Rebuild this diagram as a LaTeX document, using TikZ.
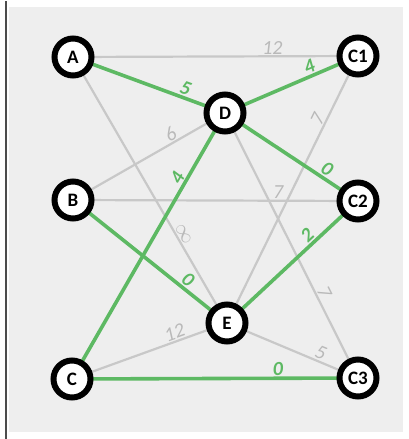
\documentclass[tikz,border=0pt]{standalone}
\usepackage{fontspec}
\setmainfont{Carlito}
\usetikzlibrary{calc}
\definecolor{grn}{RGB}{93,185,99}
\definecolor{gedge}{RGB}{200,200,200}
\definecolor{glab}{RGB}{185,185,185}
\definecolor{panel}{RGB}{238,238,238}
\pgfdeclarelayer{bglayer}
\pgfdeclarelayer{edgelayer}
\pgfsetlayers{bglayer,edgelayer,main}
\begin{document}
\begin{tikzpicture}[x=1pt,y=-1pt,
  vert/.style={circle,draw=black,fill=white,line width=6pt,minimum size=37pt,inner sep=0pt,font=\fontsize{19}{19}\selectfont\bfseries},
  grayedge/.style={draw=gedge,line width=2.2pt},
  greenedge/.style={draw=grn,line width=3.6pt},
  glabel/.style={pos=0.7,sloped,above=0pt,inner sep=1pt,text=glab,font=\fontsize{20}{20}\selectfont\itshape},
  nlabel/.style={pos=0.7,sloped,above=0pt,inner sep=1pt,text=grn,font=\fontsize{20}{20}\selectfont\itshape\bfseries}]
\useasboundingbox (0,0) rectangle (409,439);
\begin{pgfonlayer}{bglayer}
\fill[white] (0,0) rectangle (409,439);
\fill[panel] (9,7) rectangle (403,432);
\draw[black!70,line width=2pt] (5.5,1) -- (5.5,439);
\end{pgfonlayer}
\node[vert] (A) at (73,57) {A};
\node[vert] (C1) at (358,56) {C1};
\node[vert] (D) at (225,113) {D};
\node[vert] (B) at (73,200) {B};
\node[vert] (C2) at (358,201) {C2};
\node[vert] (E) at (227,323) {E};
\node[vert] (C) at (72,379) {C};
\node[vert] (C3) at (358,378) {C3};
\begin{pgfonlayer}{edgelayer}
\path[grayedge] (A.center) -- node[glabel]{12} (C1.center);
\path[grayedge] (B.center) -- node[glabel,pos=0.67]{6} (D.center);
\path[grayedge] (A.center) -- node[glabel,pos=0.68]{$\infty$} (E.center);
\path[grayedge] (C1.center) -- node[glabel,pos=0.25]{7} (E.center);
\path[grayedge] (B.center) -- node[glabel,pos=0.72]{7} (C2.center);
\path[grayedge] (D.center) -- node[glabel,pos=0.69]{7} (C3.center);
\path[grayedge] (C.center) -- node[glabel,pos=0.68]{12} (E.center);
\path[grayedge] (E.center) -- node[glabel,pos=0.69]{5} (C3.center);
\path[greenedge] (A.center) -- node[nlabel,pos=0.72]{5} (D.center);
\path[greenedge] (D.center) -- node[nlabel,pos=0.66]{4} (C1.center);
\path[greenedge] (D.center) -- node[nlabel,pos=0.73]{0} (C2.center);
\path[greenedge] (C.center) -- node[nlabel,pos=0.74]{4} (D.center);
\path[greenedge] (B.center) -- node[nlabel,pos=0.71]{0} (E.center);
\path[greenedge] (E.center) -- node[nlabel,pos=0.66]{2} (C2.center);
\path[greenedge] (C.center) -- node[nlabel,pos=0.72]{0} (C3.center);
\end{pgfonlayer}
\end{tikzpicture}
\end{document}
